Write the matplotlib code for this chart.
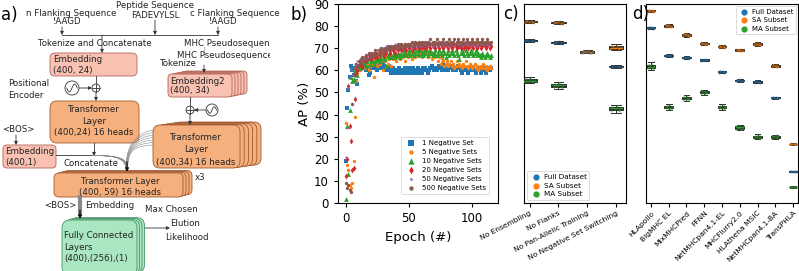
import numpy as np
import matplotlib
matplotlib.use("Agg")
import matplotlib.pyplot as plt
from matplotlib.patches import FancyBboxPatch, Circle
from matplotlib.path import Path
from matplotlib.patches import PathPatch

# ---------------- data ----------------
series_labels = ["1 Negative Set", "5 Negative Sets", "10 Negative Sets",
                 "20 Negative Sets", "50 Negative Sets", "500 Negative Sets"]
ap_neg1 = [19, 43, 51, 57, 62, 60, 58, 61, 55, 54,
           60, 62, 61, 63, 62, 61, 60, 62, 58, 59,
           61, 63, 62, 61, 62, 60, 61, 62, 61, 63,
           62, 61, 60, 61, 62, 60, 59, 61, 60, 59,
           60, 59, 61, 60, 59, 60, 59, 61, 60, 59,
           61, 60, 59, 61, 60, 59, 60, 61, 59, 60,
           59, 61, 60, 61, 60, 59, 60, 61, 62, 61,
           60, 61, 60, 61, 62, 61, 60, 63, 61, 60,
           61, 60, 61, 62, 61, 60, 61, 60, 61, 62,
           61, 60, 59, 61, 60, 61, 60, 59, 60, 61,
           60, 61, 60, 59, 60, 61, 60, 59, 60, 61,
           60, 59, 60, 61, 60, 61]
ap_neg5 = [36, 17, 15, 8, 7, 9, 19, 39, 55, 59,
           61, 60, 63, 62, 64, 61, 62, 63, 60, 62,
           64, 63, 57, 63, 64, 62, 65, 63, 64, 60,
           65, 64, 66, 63, 65, 66, 62, 65, 67, 66,
           64, 66, 67, 65, 67, 66, 68, 64, 67, 66,
           68, 67, 65, 67, 68, 66, 67, 69, 67, 68,
           66, 68, 67, 69, 68, 66, 67, 68, 65, 67,
           68, 66, 67, 64, 66, 63, 65, 64, 62, 63,
           64, 62, 63, 64, 62, 63, 61, 62, 64, 62,
           63, 62, 61, 63, 62, 64, 62, 61, 63, 62,
           61, 62, 63, 61, 62, 60, 61, 62, 61, 63,
           61, 62, 60, 61, 62, 61]
ap_neg10 = [2, 35, 13, 42, 57, 55, 56, 60, 61, 58,
            62, 61, 63, 62, 64, 63, 62, 64, 65, 63,
            64, 65, 63, 64, 66, 65, 64, 66, 65, 67,
            66, 65, 62, 67, 66, 68, 66, 67, 68, 66,
            67, 68, 67, 66, 68, 67, 69, 68, 67, 68,
            69, 67, 68, 69, 67, 68, 69, 68, 67, 69,
            68, 67, 69, 68, 69, 67, 68, 69, 68, 67,
            68, 69, 67, 68, 69, 68, 67, 69, 68, 66,
            68, 69, 67, 68, 69, 68, 67, 69, 68, 67,
            65, 68, 69, 68, 67, 69, 68, 67, 68, 69,
            68, 67, 68, 69, 67, 68, 67, 66, 68, 67,
            66, 67, 68, 67, 66, 67]
ap_neg20 = [12, 20, 53, 35, 28, 15, 16, 47, 59, 60,
            62, 63, 64, 62, 65, 64, 66, 65, 67, 66,
            65, 67, 66, 68, 67, 66, 68, 67, 69, 68,
            67, 69, 68, 70, 69, 68, 70, 69, 70, 68,
            70, 69, 71, 70, 69, 70, 71, 70, 69, 71,
            70, 71, 69, 70, 71, 70, 72, 71, 70, 71,
            70, 72, 71, 70, 71, 72, 71, 70, 72, 71,
            71, 70, 72, 71, 70, 72, 71, 70, 71, 72,
            71, 70, 72, 71, 70, 71, 72, 71, 70, 72,
            71, 70, 71, 72, 70, 71, 72, 70, 71, 72,
            71, 70, 72, 71, 70, 71, 72, 70, 71, 72,
            71, 70, 71, 72, 70, 71]
ap_neg50 = [21, 34, 52, 57, 60, 58, 61, 63, 62, 64,
            63, 65, 64, 66, 65, 66, 67, 66, 67, 68,
            67, 68, 67, 69, 68, 69, 68, 70, 69, 70,
            69, 70, 71, 70, 69, 71, 70, 71, 70, 72,
            71, 70, 71, 72, 71, 70, 72, 71, 72, 71,
            72, 71, 70, 72, 71, 72, 71, 72, 73, 71,
            72, 71, 72, 73, 72, 71, 72, 73, 72, 71,
            72, 73, 72, 71, 72, 73, 72, 71, 73, 72,
            72, 71, 73, 72, 72, 73, 71, 72, 73, 72,
            72, 73, 71, 72, 73, 72, 72, 73, 72, 71,
            73, 72, 72, 73, 71, 72, 73, 72, 72, 73,
            72, 73, 72, 71, 72, 73]
ap_neg500 = [9, 7, 8, 6, 5, 45, 58, 61, 63, 62,
             64, 63, 65, 66, 64, 66, 67, 65, 68, 67,
             66, 68, 67, 69, 68, 67, 69, 68, 70, 69,
             68, 70, 69, 71, 70, 69, 71, 70, 71, 70,
             71, 72, 70, 71, 72, 71, 70, 72, 71, 72,
             71, 72, 73, 71, 72, 73, 72, 71, 73, 72,
             73, 72, 71, 73, 72, 73, 72, 74, 72, 73,
             72, 73, 74, 72, 73, 72, 73, 74, 72, 73,
             73, 72, 74, 73, 72, 73, 74, 72, 73, 74,
             73, 72, 73, 74, 72, 73, 74, 73, 72, 73,
             74, 73, 72, 73, 74, 73, 72, 73, 74, 73,
             72, 73, 74, 73, 72, 73]

ablation_labels = ["No Ensembling", "No Flanks", "No Pan-Allelic Training",
                   "No Negative Set Switching"]
abl_full = [73.5, 72.6, 68.2, 61.8]
abl_sa = [82.0, 81.6, 68.4, 70.4]
abl_ma = [55.5, 53.1, np.nan, 42.7]
abl_full_spread = [0.7, 0.8, 0.5, 0.6]
abl_sa_spread = [0.8, 0.8, 0.7, 1.3]
abl_ma_spread = [1.3, 1.6, np.nan, 1.8]

tool_labels = ["HLApollo", "BigMHC EL", "MixMHCPred", "FFNN", "NetMHCpan4.1-EL",
               "MHCFlurry2.0", "HLAthena MSIC", "NetMHCpan4.1-BA", "TransPHLA"]
tool_full = [79.2, 66.7, 65.8, 64.7, 59.3, 55.5, 54.8, 47.6, 14.3]
tool_sa = [86.9, 80.1, 76.0, 72.0, 70.7, 69.2, 71.8, 62.0, 26.7]
tool_ma = [61.8, 43.4, 47.4, 50.1, 43.4, 34.1, 30.0, 30.0, 7.2]
tool_full_spread = [0.6, 0.6, 0.6, 0.6, 0.6, 0.6, 0.7, 0.5, 0.3]
tool_sa_spread = [0.6, 0.7, 0.7, 0.7, 0.7, 0.6, 0.9, 0.7, 0.3]
tool_ma_spread = [1.8, 1.3, 1.3, 1.2, 1.2, 1.3, 1.0, 0.9, 0.3]

subset_labels = ["Full Dataset", "SA Subset", "MA Subset"]

# ---------------- figure ----------------
W, H = 799, 271
fig = plt.figure(figsize=(W / 100, H / 100), dpi=100)
plt.rcParams['font.family'] = ['DejaVu Sans']

def fx(px):
    return px / W

def fy(py):
    return 1 - py / H

# ---------------- panel a (diagram) ----------------
ax = fig.add_axes([0, 0, 270 / W, 1])
ax.set_xlim(0, 270)
ax.set_ylim(271, 0)
ax.axis('off')

FS = 6.2
EMB_F, EMB_E = '#F8C1B1', '#B5655A'
TRF_F, TRF_E = '#F6B07E', '#9E5A30'
FC_F, FC_E = '#ABE6C3', '#4A9468'


def box(x0, y0, x1, y1, fc, ec, n=1, dx=0.0, dy=0.0, rad=5):
    for i in range(n - 1, -1, -1):
        p = FancyBboxPatch((x0 + i * dx, y0 + i * dy), x1 - x0, y1 - y0,
                           boxstyle=f"round,pad=0,rounding_size={rad}",
                           fc=fc, ec=ec, lw=0.6, zorder=2 + (n - i) * 0.01)
        ax.add_patch(p)


def arrow(x0, y0, x1, y1, color='#333333', lw=0.6):
    ax.annotate('', xy=(x1, y1), xytext=(x0, y0),
                arrowprops=dict(arrowstyle='-|>', lw=lw, color=color,
                                mutation_scale=5, shrinkA=0, shrinkB=0), zorder=5)


def line(xs, ys, color='#333333', lw=0.6, ls='-'):
    ax.plot(xs, ys, color=color, lw=lw, ls=ls, zorder=4)


def sine(cx, cy, r):
    ax.add_patch(Circle((cx, cy), r, fc='white', ec='#333333', lw=0.6, zorder=5))
    t = np.linspace(-1, 1, 40)
    ax.plot(cx + t * r * 0.75, cy - np.sin(t * np.pi) * r * 0.55, color='#333333', lw=0.6, zorder=6)


def plus(cx, cy, r):
    ax.add_patch(Circle((cx, cy), r, fc='white', ec='#333333', lw=0.6, zorder=5))
    ax.plot([cx - r, cx + r], [cy, cy], color='#333333', lw=0.6, zorder=6)
    ax.plot([cx, cx], [cy - r, cy + r], color='#333333', lw=0.6, zorder=6)


txt = dict(fontsize=FS, color='#222222', zorder=7)
ax.text(155, 5, "Peptide Sequence", ha='center', va='center', **txt)
ax.text(155, 15, "FADEVYLSL", ha='center', va='center', **txt)
ax.text(26, 14, "n Flanking Sequence", ha='left', va='center', **txt)
ax.text(67, 22, "!AAGD", ha='center', va='center', **txt)
ax.text(190, 14, "c Flanking Sequence", ha='left', va='center', **txt)
ax.text(223, 22, "!AAGD", ha='center', va='center', **txt)
arrow(62, 27, 62, 35)
arrow(155, 20, 155, 35)
arrow(218, 27, 218, 35)
line([62, 218], [35, 35])
arrow(102, 35, 102, 53)
ax.text(38, 43, "Tokenize and Concatenate", ha='left', va='center', **txt)
ax.text(184, 43, "MHC Pseudosequence", ha='left', va='center', clip_on=True, **txt)
line([204, 204], [47, 57], ls=':')
ax.text(177, 55, "MHC Pseudosequence", ha='left', va='center', clip_on=True, **txt)
ax.text(160, 64, "Tokenize", ha='left', va='center', **txt)
arrow(204, 65, 204, 73)

# Embedding (400,24)
box(50, 53, 137, 76, EMB_F, EMB_E)
ax.text(53, 60, "Embedding", ha='left', va='center', **txt)
ax.text(53, 71, "(400, 24)", ha='left', va='center', **txt)
ax.text(8, 83, "Positional", ha='left', va='center', **txt)
ax.text(8, 95, "Encoder", ha='left', va='center', **txt)
line([96, 96], [76, 84])
plus(96, 88, 4)
sine(72, 88, 7)
arrow(79, 88, 92, 88)
arrow(96, 92, 96, 101)

# Transformer (400,24)
box(50, 101, 139, 143, TRF_F, TRF_E, rad=7)
ax.text(94, 109, "Transformer", ha='center', va='center', **txt)
ax.text(94, 121, "Layer", ha='center', va='center', **txt)
ax.text(94, 133, "(400,24) 16 heads", ha='center', va='center', **txt)

# Embedding2 stacked
box(168, 74, 232, 97, EMB_F, EMB_E, n=6, dx=3.0, dy=-0.6, rad=4)
ax.text(170, 81, "Embedding2", ha='left', va='center', **txt)
ax.text(170, 91, "(400, 34)", ha='left', va='center', **txt)
line([190, 190], [97, 106])
plus(190, 110, 4)
sine(212, 110, 6)
arrow(206, 110, 194, 110)
arrow(190, 114, 190, 125)

# Transformer (400,34) stacked
box(153, 125, 240, 168, TRF_F, TRF_E, n=6, dx=4.2, dy=-0.6, rad=7)
ax.text(196, 138, "Transformer", ha='center', va='center', **txt)
ax.text(196, 150, "Layer", ha='center', va='center', **txt)
ax.text(196, 162, "(400,34) 16 heads", ha='center', va='center', **txt)

# BOS embedding
ax.text(18, 130, "<BOS>", ha='center', va='center', **txt)
arrow(16, 135, 16, 145)
box(3, 145, 56, 168, EMB_F, EMB_E, rad=4)
ax.text(5, 151, "Embedding", ha='left', va='center', **txt)
ax.text(5, 162, "(400,1)", ha='left', va='center', **txt)

# concatenation
line([94, 94], [143, 153])
line([56, 92], [155, 155])
arrow(94, 153, 94, 156)
for i in range(7):
    verts = [(94, 155.5), (120 + i * 0.6, 155.5), (124 + i * 0.5, 160), (126 + i * 0.3, 168)]
    ax.add_patch(PathPatch(Path(verts, [Path.MOVETO, Path.CURVE4, Path.CURVE4, Path.CURVE4]),
                           fc='none', ec='#8a8a8a', lw=0.4, zorder=3))
    verts = [(153, 130 + i * 2.5), (132 + i * 0.4, 134 + i * 2), (126 + i * 0.3, 150), (126 + i * 0.3, 168)]
    ax.add_patch(PathPatch(Path(verts, [Path.MOVETO, Path.CURVE4, Path.CURVE4, Path.CURVE4]),
                           fc='none', ec='#8a8a8a', lw=0.4, zorder=3))
arrow(127, 162, 127, 172, color='#111111', lw=0.9)
ax.text(63, 164, "Concatenate", ha='left', va='center', **txt)

# Transformer (400,59) stacked
box(54, 173, 183, 197, TRF_F, TRF_E, n=4, dx=3.0, dy=-0.8, rad=5)
ax.text(120, 182, "Transformer Layer", ha='center', va='center', **txt)
ax.text(120, 192, "(400, 59) 16 heads", ha='center', va='center', **txt)
ax.text(195, 177, "x3", ha='left', va='center', **txt)

# BOS embedding path
line([80, 80], [197, 214], color='#8a8a8a', lw=3)
arrow(80, 210, 80, 219, color='#111111', lw=0.9)
ax.text(44, 206, "<BOS>", ha='left', va='center', **txt)
ax.text(85, 206, "Embedding", ha='left', va='center', **txt)
ax.text(145, 210, "Max Chosen", ha='left', va='center', **txt)

# FC stacked
box(62, 220, 137, 275, FC_F, FC_E, n=4, dx=2.5, dy=-0.8, rad=8)
ax.text(64, 235, "Fully Connected", ha='left', va='center', **txt)
ax.text(64, 247, "Layers", ha='left', va='center', **txt)
ax.text(64, 258, "(400),(256),(1)", ha='left', va='center', **txt)
arrow(145, 228, 170, 228)
ax.text(170, 224, "Elution", ha='left', va='center', **txt)
ax.text(165, 237, "Likelihood", ha='left', va='center', **txt)

# ---------------- panel b ----------------
axb = fig.add_axes([fx(338), fy(203), (498 - 338) / W, (203 - 4) / H])
colors = ['#1f77b4', '#ff7f0e', '#2ca02c', '#d62728', '#9467bd', '#8c564b']
markers = ['s', 'o', '^', 'd', '*', 'h']
msizes = [9, 6, 12, 9, 7, 7]
all_series = [ap_neg1, ap_neg5, ap_neg10, ap_neg20, ap_neg50, ap_neg500]
for vals, c, m, s, lab in zip(all_series, colors, markers, msizes, series_labels):
    ep = np.arange(len(vals))
    axb.scatter(ep, vals, c=c, marker=m, s=s, lw=0, label=lab, zorder=3)
axb.set_xlim(-6.3, 120.6)
axb.set_ylim(0, 90)
axb.set_yticks(range(0, 91, 10))
axb.set_xticks([0, 50, 100])
axb.tick_params(labelsize=8.5, length=3)
axb.set_xlabel("Epoch (#)", fontsize=9.5)
axb.set_ylabel("AP (%)", fontsize=9.5, labelpad=2)
leg = axb.legend(loc='lower right', fontsize=5.0, markerscale=1.3, borderaxespad=1.3,
                 handletextpad=0.6, labelspacing=0.45, frameon=True)
leg.get_frame().set_linewidth(0.6)

# ---------------- boxes ----------------
sub_colors = ['#1f77b4', '#ff7f0e', '#2ca02c']
jitter_dx = [-0.17, -0.1, -0.04, 0.03, 0.09, 0.16, -0.13, 0.12]
jitter_dy = [-0.5, 0.3, -0.2, 0.6, -0.4, 0.1, 0.45, -0.6]


def draw_boxes(axx, meds, spreads, color):
    stats, pos = [], []
    for i, (m, s) in enumerate(zip(meds, spreads)):
        if np.isnan(m):
            continue
        stats.append(dict(med=m, q1=m - s * 0.45, q3=m + s * 0.45,
                          whislo=m - s, whishi=m + s, fliers=[]))
        pos.append(i)
    axx.bxp(stats, positions=pos, widths=0.5, capwidths=0.32, patch_artist=True,
            showfliers=False,
            boxprops=dict(facecolor=color, edgecolor='#2e2e2e', lw=0.7),
            medianprops=dict(color='#2e2e2e', lw=0.8),
            whiskerprops=dict(color='#2e2e2e', lw=0.7),
            capprops=dict(color='#2e2e2e', lw=0.7), manage_ticks=False, zorder=3)
    for i, (m, s) in enumerate(zip(meds, spreads)):
        if np.isnan(m):
            continue
        axx.scatter(i + np.array(jitter_dx), m + np.array(jitter_dy) * s,
                    s=3, color=color, alpha=0.45, lw=0, zorder=4)


def setup(axx, labels, rot, xlim, fs):
    axx.set_ylim(0, 90)
    axx.set_yticks([])
    axx.set_xlim(*xlim)
    axx.set_xticks(range(len(labels)))
    axx.set_xticklabels(labels, rotation=rot, ha='right', rotation_mode='anchor', fontsize=fs)
    axx.tick_params(axis='x', length=3, pad=2)


axc = fig.add_axes([fx(524), fy(203), (626 - 524) / W, (203 - 4) / H])
draw_boxes(axc, abl_full, abl_full_spread, sub_colors[0])
draw_boxes(axc, abl_sa, abl_sa_spread, sub_colors[1])
draw_boxes(axc, abl_ma, abl_ma_spread, sub_colors[2])
setup(axc, ablation_labels, 27, (-0.2, 3.35), 5.4)
for c, lab in zip(sub_colors, subset_labels):
    axc.scatter([], [], color=c, s=12, label=lab)
lg = axc.legend(loc='lower left', fontsize=5.2, borderaxespad=0.4, handletextpad=0.3,
                labelspacing=0.35, handlelength=1.6)
lg.get_frame().set_linewidth(0.6)

axd = fig.add_axes([fx(646), fy(203), (798 - 646) / W, (203 - 4) / H])
draw_boxes(axd, tool_full, tool_full_spread, sub_colors[0])
draw_boxes(axd, tool_sa, tool_sa_spread, sub_colors[1])
draw_boxes(axd, tool_ma, tool_ma_spread, sub_colors[2])
setup(axd, tool_labels, 45, (-0.28, 8.28), 5.4)
for c, lab in zip(sub_colors, subset_labels):
    axd.scatter([], [], color=c, s=12, label=lab)
lg = axd.legend(loc='upper right', fontsize=5.0, borderaxespad=0.3, handletextpad=0.3,
                labelspacing=0.35, handlelength=1.6)
lg.get_frame().set_linewidth(0.6)

# panel labels
fig.text(fx(1), fy(15), "a)", fontsize=12, va='center', ha='left')
fig.text(fx(290), fy(15), "b)", fontsize=12, va='center', ha='left')
fig.text(fx(503), fy(14), "c)", fontsize=12, va='center', ha='left')
fig.text(fx(632), fy(14), "d)", fontsize=12, va='center', ha='left')

fig.savefig("out.png", dpi=100)
